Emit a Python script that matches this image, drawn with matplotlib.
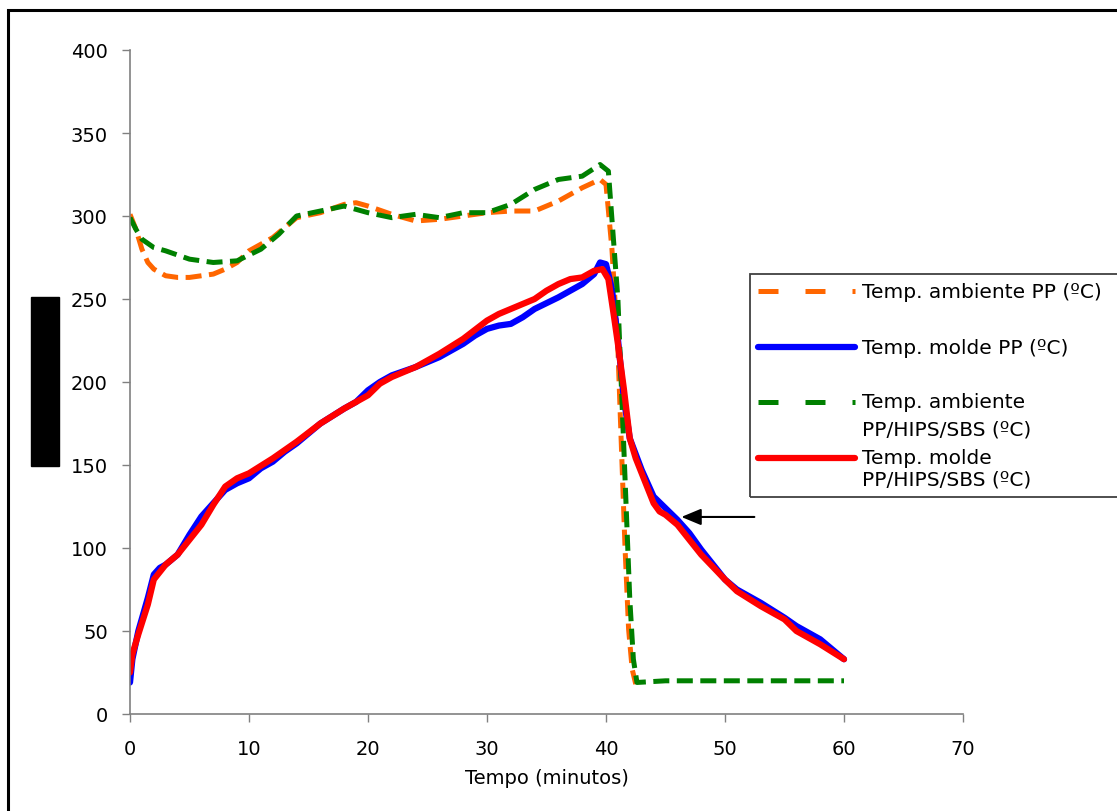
import matplotlib
matplotlib.use("Agg")
import matplotlib.pyplot as plt
from matplotlib.patches import Rectangle
from matplotlib.lines import Line2D

plt.rcParams['font.family'] = ['DejaVu Sans']

# ambient temperature, PP
t_amb_pp = [0, 0.5, 1, 1.5, 2, 3, 4, 5, 6, 7, 8, 9, 10, 12, 14, 16, 18, 19, 20, 22, 24,
            26, 28, 30, 32, 34, 36, 38, 39.5, 40, 40.5, 41, 41.3, 41.6, 41.9, 42.2, 42.5]
T_amb_pp = [301, 292, 280, 272, 268, 264, 263, 263, 264, 265, 268, 272, 279, 287, 299, 302,
            307, 308, 306, 301, 297, 298, 300, 302, 303, 303, 309, 317, 322, 319, 280, 220,
            160, 100, 51, 27, 18]

# mould temperature, PP
t_mol_pp = [0, 0.2, 0.7, 1.5, 2, 2.5, 3, 4, 5, 6, 7, 8, 9, 10, 11, 12, 13, 14, 15, 16, 18,
            19, 20, 21, 22, 24, 26, 27, 28, 29, 30, 31, 32, 33, 34, 36, 38, 39, 39.5, 40,
            40.5, 41, 41.5, 42, 43, 44, 45, 46, 47, 48, 50, 51, 53, 55, 56, 58, 60]
T_mol_pp = [19, 33, 50, 70, 84, 88, 90, 96, 108, 119, 127, 135, 139, 142, 148, 152, 158,
            163, 169, 175, 184, 188, 195, 200, 204, 209, 215, 219, 223, 228, 232, 234, 235,
            239, 244, 251, 259, 265, 272, 271, 256, 226, 190, 166, 147, 131, 124, 117, 109,
            99, 81, 75, 67, 58, 53, 45, 33]

# ambient temperature, PP/HIPS/SBS
t_amb_mix = [0, 0.5, 1, 2, 3, 5, 7, 9, 11, 12.5, 14, 16, 18, 20, 22, 24, 26, 28, 30, 32, 34,
             36, 38, 39.5, 40.2, 40.5, 41, 41.5, 42, 42.3, 42.6, 45, 50, 55, 60]
T_amb_mix = [299, 292, 286, 281, 279, 274, 272, 273, 280, 289, 300, 303, 306, 302, 299, 301,
             299, 302, 302, 307, 316, 322, 324, 331, 327, 298, 250, 160, 69, 33, 19, 20, 20,
             20, 20]

# mould temperature, PP/HIPS/SBS
t_mol_mix = [0, 0.2, 0.7, 1.5, 2, 3, 4, 5, 6, 7, 8, 9, 10, 12, 14, 16, 18, 20, 21, 22, 24,
             26, 28, 30, 31, 32, 34, 35, 36, 37, 38, 39, 39.7, 40.2, 40.7, 41, 41.5, 42,
             42.5, 43, 43.5, 44, 44.5, 45, 46, 48, 50, 51, 53, 55, 56, 58, 60]
T_mol_mix = [25, 36, 48, 66, 81, 90, 96, 105, 114, 126, 137, 142, 145, 154, 164, 175, 184,
             192, 199, 203, 209, 217, 226, 237, 241, 244, 250, 255, 259, 262, 263, 267, 268,
             262, 238, 223, 196, 166, 154, 145, 136, 127, 122, 120, 114, 96, 81, 74, 65, 57,
             50, 42, 33]

labels = [["Temp. ambiente PP (ºC)"], ["Temp. molde PP (ºC)"],
          ["Temp. ambiente", "PP/HIPS/SBS (ºC)"], ["Temp. molde", "PP/HIPS/SBS (ºC)"]]
colors = ['#FF6600', '#0000FF', '#008000', '#FF0000']
dashed = [True, False, True, False]

W, H = 1117, 812
fig = plt.figure(figsize=(W / 100, H / 100), dpi=100)
ax = fig.add_axes([130 / W, 1 - 715 / H, 833 / W, 664 / H])


def fx(px):
    return px / W


def fy(py):
    return 1 - py / H


dash_kw = dict(lw=3.6, dashes=(3.2, 1.5), dash_capstyle='butt')
solid_kw = dict(lw=4.5, solid_capstyle='round')
ax.plot(t_amb_pp, T_amb_pp, color=colors[0], **dash_kw)
ax.plot(t_mol_pp, T_mol_pp, color=colors[1], **solid_kw)
ax.plot(t_amb_mix, T_amb_mix, color=colors[2], **dash_kw)
ax.plot(t_mol_mix, T_mol_mix, color=colors[3], **solid_kw)

ax.annotate("", xy=(46.1, 118.7), xytext=(52.7, 118.7),
            arrowprops=dict(arrowstyle="-|>,head_length=1.2,head_width=0.5",
                            color='black', lw=1.5))

ax.set_xlim(0, 70)
ax.set_ylim(0, 400)
ax.set_xticks(range(0, 71, 10))
ax.set_yticks(range(0, 401, 50))
for s in ['top', 'right']:
    ax.spines[s].set_visible(False)
for s in ['left', 'bottom']:
    ax.spines[s].set_color('#808080')
    ax.spines[s].set_linewidth(1.2)
ax.tick_params(direction='out', length=6, width=1, color='#808080', labelsize=14)
ax.tick_params(axis='y', pad=10)
ax.tick_params(axis='x', pad=12)
ax.set_xlabel("Tempo (minutos)", fontsize=14, labelpad=7)

# legend, drawn by hand so handles align with the first text line
fig.patches.append(Rectangle((fx(750), fy(498)), 0.5, (498 - 275) / H,
                             transform=fig.transFigure, fill=False,
                             edgecolor='#404040', lw=1.3))
handle_y = [292, 348, 403, 459]
text_y = [[292], [348], [403, 430], [459, 480]]
for c, d, hy, lab, ty in zip(colors, dashed, handle_y, labels, text_y):
    kw = dict(lw=3.6, dashes=(4.0, 5.4), dash_capstyle='butt') if d else solid_kw
    fig.lines.append(Line2D([fx(758), fx(855)], [fy(hy), fy(hy)], color=c,
                            transform=fig.transFigure, **kw))
    for line, y in zip(lab, ty):
        fig.text(fx(862), fy(y), line, fontsize=14.5, va='center', ha='left')

# redaction block where the y-axis label sits
fig.patches.append(Rectangle((fx(31), fy(467)), 28 / W, 169 / H,
                             transform=fig.transFigure, color='black'))
# outer chart frame
fig.patches.append(Rectangle((fx(8), -0.05), 1.1, 1 - 11 / H + 0.05,
                             transform=fig.transFigure, fill=False,
                             edgecolor='black', lw=2.2))

fig.savefig("out.png", dpi=100)
